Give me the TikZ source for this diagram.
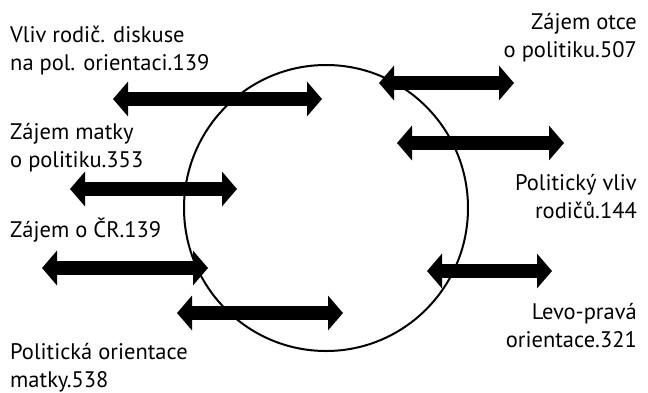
\documentclass[tikz,border=0pt]{standalone}
\usepackage{fontspec}
\setmainfont{PT Sans}
\usetikzlibrary{arrows.meta}
\begin{document}
\begin{tikzpicture}[x=1pt,y=-1pt,
  dbl/.style={line width=14pt,{Triangle[width=34pt,length=15pt]}-{Triangle[width=34pt,length=15pt]}},
  lab/.style={font=\fontsize{22.5}{28}\selectfont, inner sep=0pt, align=left},
  labr/.style={font=\fontsize{22.5}{28}\selectfont, inner sep=0pt, align=right}]
\useasboundingbox (0,0) rectangle (648,392);
\draw[line width=2pt] (326,208) ellipse [x radius=142, y radius=143];
% left labels (anchored at the baseline of the last line)
\node[lab, anchor=base west] (t1) at (10,70) {Vliv rodič. diskuse\\na pol. orientaci.139};
\node[lab, anchor=base west] (t2) at (10,167) {Zájem matky\\o politiku.353};
\node[lab, anchor=base west] (t3) at (10,237) {Zájem o ČR.139};
\node[lab, anchor=base west] (t4) at (10,387) {Politická orientace\\matky.538};
% right labels
\node[labr, anchor=base east] (t5) at (637,57) {Zájem otce\\o politiku.507};
\node[labr, anchor=base east] (t6) at (637,218) {Politický vliv\\rodičů.144};
\node[labr, anchor=base east] (t7) at (637,347) {Levo-pravá\\orientace.321};
% arrows
\coordinate (a1l) at (113,99);  \coordinate (a1r) at (322,99);
\coordinate (a2l) at (70,189);  \coordinate (a2r) at (237,189);
\coordinate (a3l) at (42,268);  \coordinate (a3r) at (208,268);
\coordinate (a4l) at (177,313); \coordinate (a4r) at (343,313);
\coordinate (a5l) at (379,83);  \coordinate (a5r) at (514,83);
\coordinate (a6l) at (397,143); \coordinate (a6r) at (564,143);
\coordinate (a7l) at (427,271); \coordinate (a7r) at (552,271);
\foreach \i in {1,...,7} {\draw[dbl] (a\i l) -- (a\i r);}
\end{tikzpicture}
\end{document}
